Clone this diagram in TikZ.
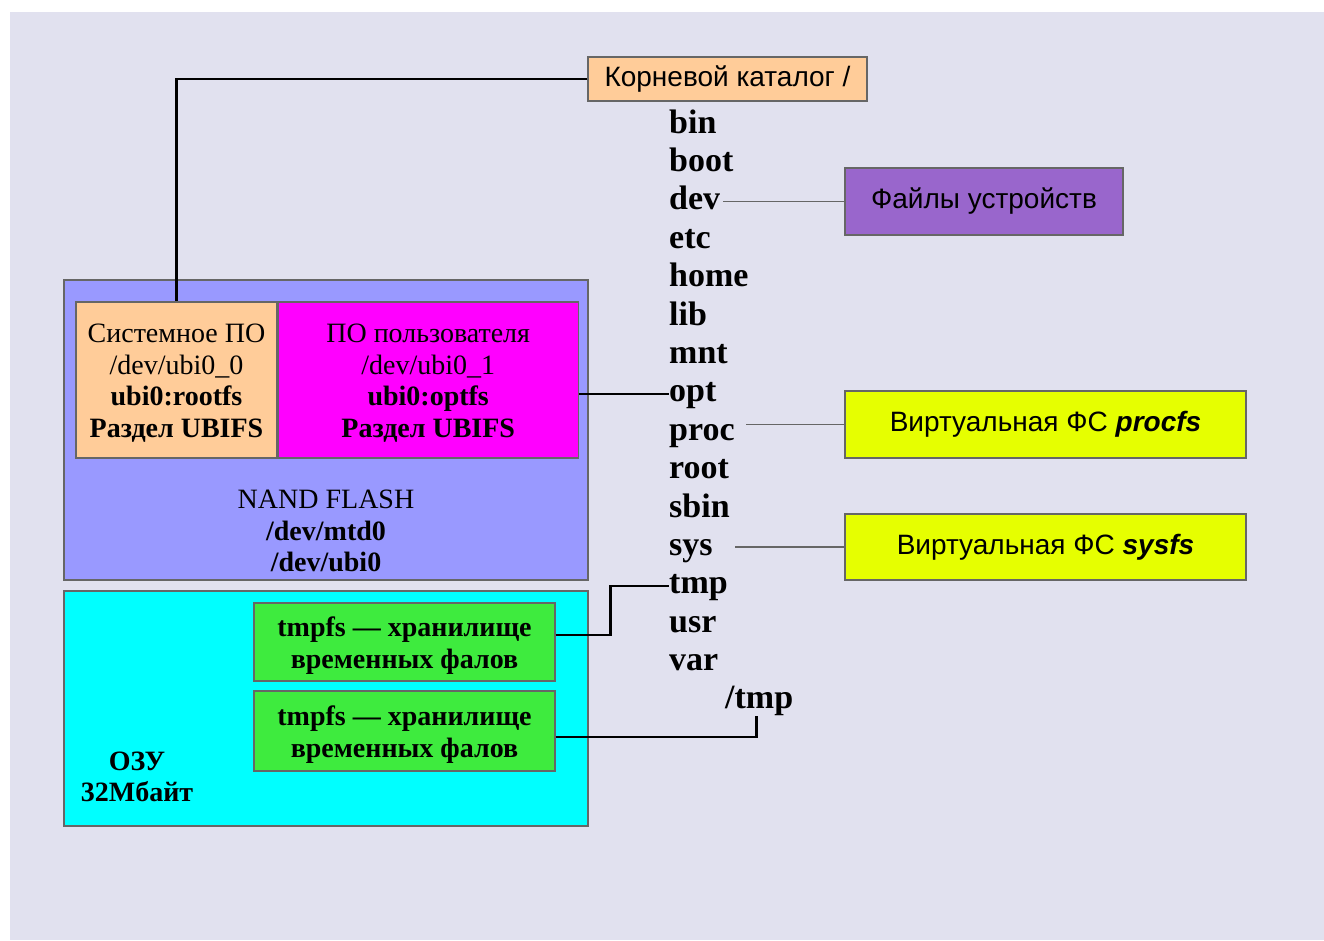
\documentclass[tikz,border=0pt]{standalone}
\usepackage{fontspec}
\setmainfont{Liberation Serif}
\setsansfont{Liberation Sans}
\usetikzlibrary{positioning}

\definecolor{bgcol}{RGB}{225,225,239}
\definecolor{peach}{RGB}{255,204,153}
\definecolor{lilac}{RGB}{153,102,204}
\definecolor{lemon}{RGB}{230,255,0}
\definecolor{nandblue}{RGB}{153,153,255}
\definecolor{userpink}{RGB}{255,0,255}
\definecolor{ramcyan}{RGB}{0,255,255}
\definecolor{tmpgreen}{RGB}{62,235,62}

\tikzset{
 box/.style={draw=black!60, line width=1.2pt, inner sep=0pt},
 sanstext/.style={font=\sffamily\fontsize{28}{32}\selectfont},
 serif/.style={font=\fontsize{28}{31.5}\selectfont, align=center},
 dirname/.style={font=\bfseries\fontsize{34}{40}\selectfont, anchor=base west, inner sep=0pt, text height=24pt, text depth=8pt},
 link/.style={line width=2.6pt},
 thinlink/.style={line width=1.4pt, black!60}
}

\begin{document}
\begin{tikzpicture}[x=1pt,y=-1pt]
 %Page
 \useasboundingbox (0,0) rectangle (1324,940);
 \fill[white] (0,0) rectangle (1324,940);
 \fill[bgcol] (10,12) rectangle (1324,940);

 %NAND and RAM
 \node[box, fill=nandblue, minimum width=524pt, minimum height=300pt] (nand) at (326,430) {};
 \node[box, fill=ramcyan, minimum width=524pt, minimum height=235pt] (ram) at (326,708.5) {};

 %Partitions
 \node[box, fill=peach, serif, minimum width=201pt, minimum height=156pt] (syssw) at (176.5,380) {};
 \node[box, fill=userpink, serif, minimum width=300pt, minimum height=156pt, right=0pt of syssw] (usersw) {};
 \node[serif] (syslbl) at ([yshift=-3pt]syssw.center)
  {Системное ПО\\/dev/ubi0\_0\\\textbf{ubi0:rootfs}\\\textbf{Раздел UBIFS}};
 \node[serif] (userlbl) at ([yshift=-3pt]usersw.center)
  {ПО пользователя\\/dev/ubi0\_1\\\textbf{ubi0:optfs}\\\textbf{Раздел UBIFS}};
 \node[serif] (nandlbl) at (326,531) {NAND FLASH\\\textbf{/dev/mtd0}\\\textbf{/dev/ubi0}};

 %tmpfs
 \node[box, fill=tmpgreen, minimum width=301pt, minimum height=78pt] (tmpfsA) at (404.5,642) {};
 \node[box, fill=tmpgreen, minimum width=301pt, minimum height=80pt] (tmpfsB) at (404.5,731) {};
 \node[serif, font=\bfseries\fontsize{28}{31.5}\selectfont] (tmpAlbl) at (404.5,645.5) {tmpfs — хранилище\\временных фалов};
 \node[serif, font=\bfseries\fontsize{28}{31.5}\selectfont] (tmpBlbl) at (404.5,734.5) {tmpfs — хранилище\\временных фалов};
 \node[serif, font=\bfseries\fontsize{28}{31.5}\selectfont] (ramlbl) at (137,777) {ОЗУ\\32Мбайт};

 %Right boxes
 \node[box, fill=peach, sanstext, minimum width=279pt, minimum height=44pt] (rootcat) at (727.5,79) {Корневой каталог /};
 \node[box, fill=lilac, sanstext, minimum width=278pt, minimum height=67pt] (devfiles) at (984,201.5) {Файлы устройств};
 \node[box, fill=lemon, sanstext, minimum width=401pt, minimum height=67pt] (procfs) at (1045.5,424.5) {Виртуальная ФС \textbf{\textit{procfs}}};
 \node[box, fill=lemon, sanstext, minimum width=401pt, minimum height=66pt] (sysfs) at (1045.5,547) {Виртуальная ФС \textbf{\textit{sysfs}}};

 %Directories
 \foreach \d [count=\i from 0] in {bin,boot,dev,etc,home,lib,mnt,opt,proc,root,sbin,sys,tmp,usr,var}
  \node[dirname] (d\d) at (669,{133+38.4*\i}) {\d};
 \node[dirname] (ptmp) at (725,708) {/tmp};

 %Links
 \draw[link] (rootcat.west) -| (syssw.north);
 \draw[link] (usersw.east |- dopt.west) -- (dopt.west);
 \draw[link] ([yshift=7pt]tmpfsA.east) -- ++(55,0) |- (dtmp.west);
 \draw[link] ([yshift=-6pt]tmpfsB.east) -| ([xshift=-3pt]ptmp.south);
 \draw[thinlink] (devfiles.west) -- ([xshift=3pt]devfiles.west -| ddev.east);
 \draw[thinlink] (procfs.west) -- ([xshift=11pt]procfs.west -| dproc.east);
 \draw[thinlink] (sysfs.west) -- ([xshift=22pt]sysfs.west -| dsys.east);

\end{tikzpicture}
\end{document}
